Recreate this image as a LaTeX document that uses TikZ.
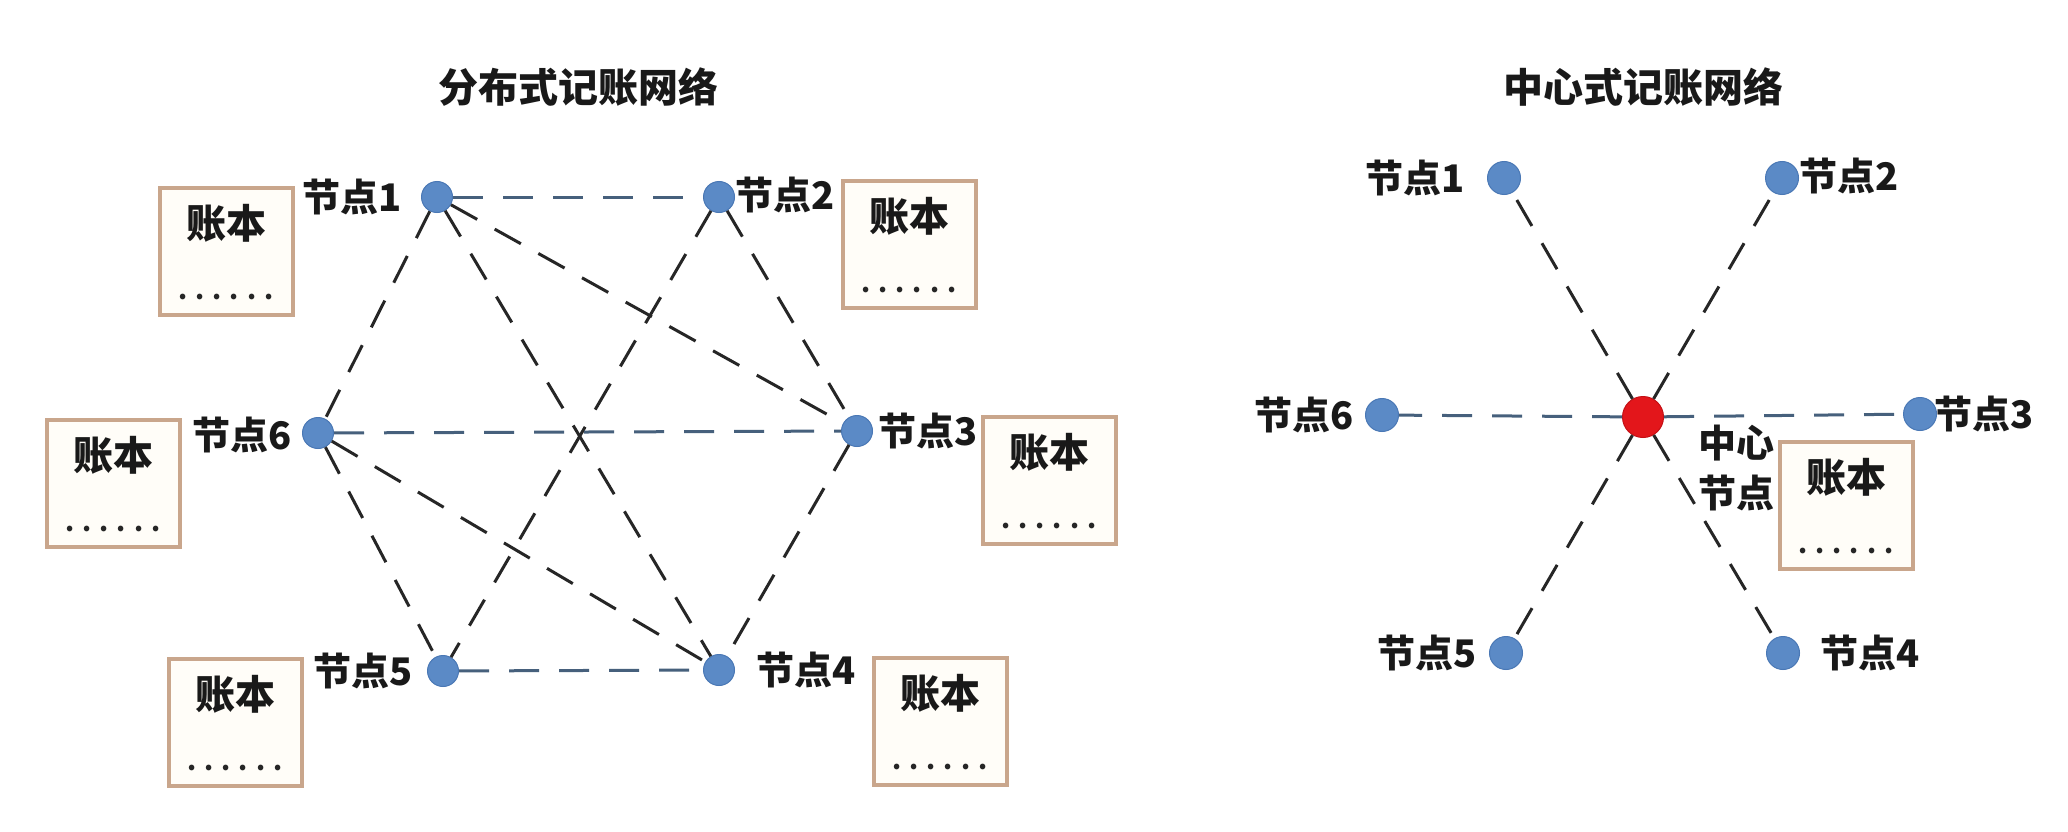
\documentclass[tikz,border=0pt]{standalone}
\usepackage{fontspec}
\newfontfamily\cjk{Noto Sans CJK SC}
\definecolor{nodeblue}{HTML}{5B8AC6}
\definecolor{nodeedge}{HTML}{4A78B5}
\definecolor{redc}{HTML}{E3161B}
\definecolor{redEdge}{HTML}{C41015}
\definecolor{boxbrd}{HTML}{C9A68C}
\definecolor{boxfill}{HTML}{FFFDF8}
\definecolor{hline}{HTML}{46607C}
\tikzset{
  pt/.style={circle, fill=nodeblue, draw=nodeedge, line width=1pt, minimum size=31pt, inner sep=0pt},
  ptr/.style={pt, minimum size=33pt},
  hub/.style={circle, fill=redc, draw=redEdge, line width=1pt, minimum size=41pt, inner sep=0pt},
  lbl/.style={font=\cjk\bfseries\fontsize{38}{42}\selectfont, inner sep=0pt, text=black!90},
  ttl/.style={font=\cjk\bfseries\fontsize{40}{44}\selectfont, inner sep=0pt, text=black!90},
  ledger/.style={draw=boxbrd, line width=4pt, fill=boxfill, minimum width=133pt, minimum height=127pt, inner sep=0pt},
  ltxt/.style={font=\cjk\bfseries\fontsize{40}{44}\selectfont, inner sep=0pt, text=black!90},
  ldots/.style={font=\cjk\bfseries\fontsize{26}{28}\selectfont, inner sep=0pt, text=black!85},
  link/.style={dash pattern=on 30pt off 20pt, line width=3pt, draw=black!85},
  hlink/.style={link, draw=hline},
}
\begin{document}
\begin{tikzpicture}[x=1pt, y=-1pt]
\useasboundingbox (0,0) rectangle (2068,832);
\fill[white] (0,0) rectangle (2068,832);

% titles
\node[ttl] (t1) at (578,87) {分布式记账网络};
\node[ttl] (t2) at (1643,87) {中心式记账网络};

% ---------- left: distributed ----------
\node[pt] (n1) at (437,197) {};
\node[pt] (n2) at (719,197) {};
\node[pt] (n3) at (857,431) {};
\node[pt] (n4) at (719,670) {};
\node[pt] (n5) at (443,671) {};
\node[pt] (n6) at (318,433) {};

\node[lbl, anchor=east] (l1) at (402,197) {节点1};
\node[lbl, anchor=west] (l2) at (735,195) {节点2};
\node[lbl, anchor=west] (l3) at (878,431) {节点3};
\node[lbl, anchor=west] (l4) at (756,670) {节点4};
\node[lbl, anchor=east] (l5) at (413,671) {节点5};
\node[lbl, anchor=east] (l6) at (292,435) {节点6};

\draw[hlink] (n1) -- (n2);
\draw[link] (n1) -- (n3);
\draw[link] (n1) -- (n4);
\draw[link] (n1) -- (n6);
\draw[link] (n2) -- (n3);
\draw[link] (n2) -- (n5);
\draw[link] (n3) -- (n4);
\draw[hlink] (n6) -- (n3);
\draw[hlink] (n5) -- (n4);
\draw[link] (n6) -- (n4);
\draw[link] (n6) -- (n5);

% ledgers left
\node[ledger] (b1) at (226,251) {};
\node[ledger] (b2) at (909,244) {};
\node[ledger] (b3) at (1049,480) {};
\node[ledger] (b4) at (940,721) {};
\node[ledger] (b5) at (235,722) {};
\node[ledger] (b6) at (113,483) {};
\foreach \b in {b1,b2,b3,b4,b5,b6}{
  \node[ltxt] (\b t) at ([yshift=-38pt]\b.north) {账本};
  \node[ldots] (\b d) at ([yshift=20pt]\b.south) {. . . . . .};
}

% ---------- right: centralized ----------
\node[hub] (c) at (1643,417) {};
\node[ptr] (m1) at (1504,178) {};
\node[ptr] (m2) at (1782,178) {};
\node[ptr] (m3) at (1920,414) {};
\node[ptr] (m4) at (1783,653) {};
\node[ptr] (m5) at (1506,653) {};
\node[ptr] (m6) at (1382,415) {};

\node[lbl, anchor=east] (k1) at (1465,178) {节点1};
\node[lbl, anchor=west] (k2) at (1799,176) {节点2};
\node[lbl, anchor=west] (k3) at (1934,414) {节点3};
\node[lbl, anchor=west] (k4) at (1820,653) {节点4};
\node[lbl, anchor=east] (k5) at (1477,653) {节点5};
\node[lbl, anchor=east] (k6) at (1354,415) {节点6};

\draw[link] (c) -- (m1);
\draw[link] (c) -- (m2);
\draw[hlink] (c) -- (m3);
\draw[link] (c) -- (m4);
\draw[link] (c) -- (m5);
\draw[hlink] (c) -- (m6);

\node[lbl, align=center, font=\cjk\bfseries\fontsize{38}{50}\selectfont] (cl) at (1736,468) {中心\\节点};

\node[ledger] (b7) at (1846,505) {};
\node[ltxt] (b7t) at ([yshift=-38pt]b7.north) {账本};
\node[ldots] (b7d) at ([yshift=20pt]b7.south) {. . . . . .};
\end{tikzpicture}
\end{document}
